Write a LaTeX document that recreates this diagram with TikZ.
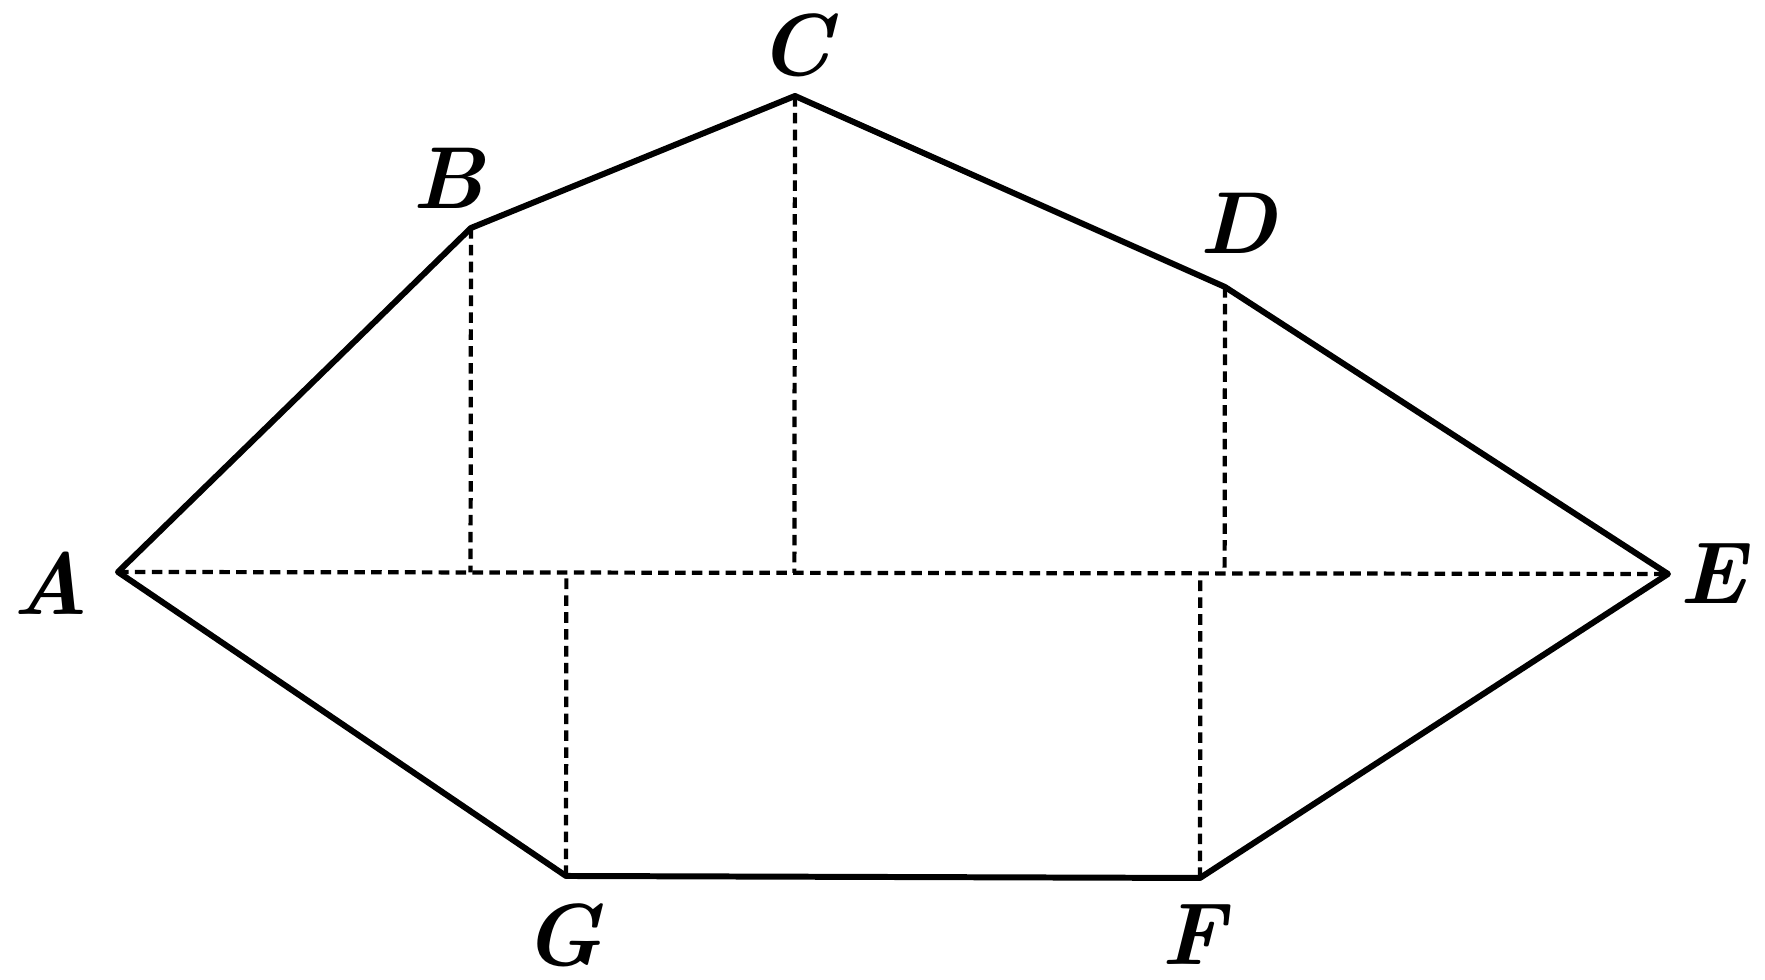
\documentclass[tikz,border=0pt]{standalone}
\usepackage{tikz}
\usetikzlibrary{calc}
\tikzset{
    side/.style={line width=1.7pt,line join=round,line cap=round},
    perp/.style={line width=1.2pt,dash pattern=on 3pt off 1.8pt},
    pointlabel/.style={inner sep=0pt,font=\fontsize{25}{30}\selectfont\bfseries\itshape},
}

\begin{document}
\begin{tikzpicture}[x=0.01cm,y=0.01cm]
		\useasboundingbox (0,0) rectangle (1765,980);
		\coordinate (A) at (118,408);
		\coordinate (B) at (471,752);
		\coordinate (C) at (795,884);
		\coordinate (D) at (1225,693);
		\coordinate (E) at (1668,406);
		\coordinate (F) at (1200,102);
		\coordinate (G) at (566,104);

		\node[pointlabel] (lA) at (51,397) {A};
		\node[pointlabel] (lB) at (448,802) {B};
		\node[pointlabel] (lC) at (795,935) {C};
		\node[pointlabel] (lD) at (1238,757) {D};
		\node[pointlabel] (lE) at (1713,406) {E};
		\node[pointlabel] (lG) at (563,45) {G};
		\node[pointlabel] (lF) at (1193,45) {F};

		\coordinate (b) at ($(A)!(B)!(E)$);
		\coordinate (c) at ($(A)!(C)!(E)$);
		\coordinate (d) at ($(A)!(D)!(E)$);
		\coordinate (g) at ($(A)!(G)!(E)$);
		\coordinate (f) at ($(A)!(F)!(E)$);

		\draw[perp] (A) -- (E);
		\draw[perp] (B) -- (b);
		\draw[perp] (C) -- (c);
		\draw[perp] (D) -- (d);
		\draw[perp] (G) -- (g);
		\draw[perp] (F) -- (f);
		\draw[side] (A) -- (B) -- (C) -- (D) -- (E) -- (F) -- (G) -- cycle;
	\end{tikzpicture}
\end{document}
